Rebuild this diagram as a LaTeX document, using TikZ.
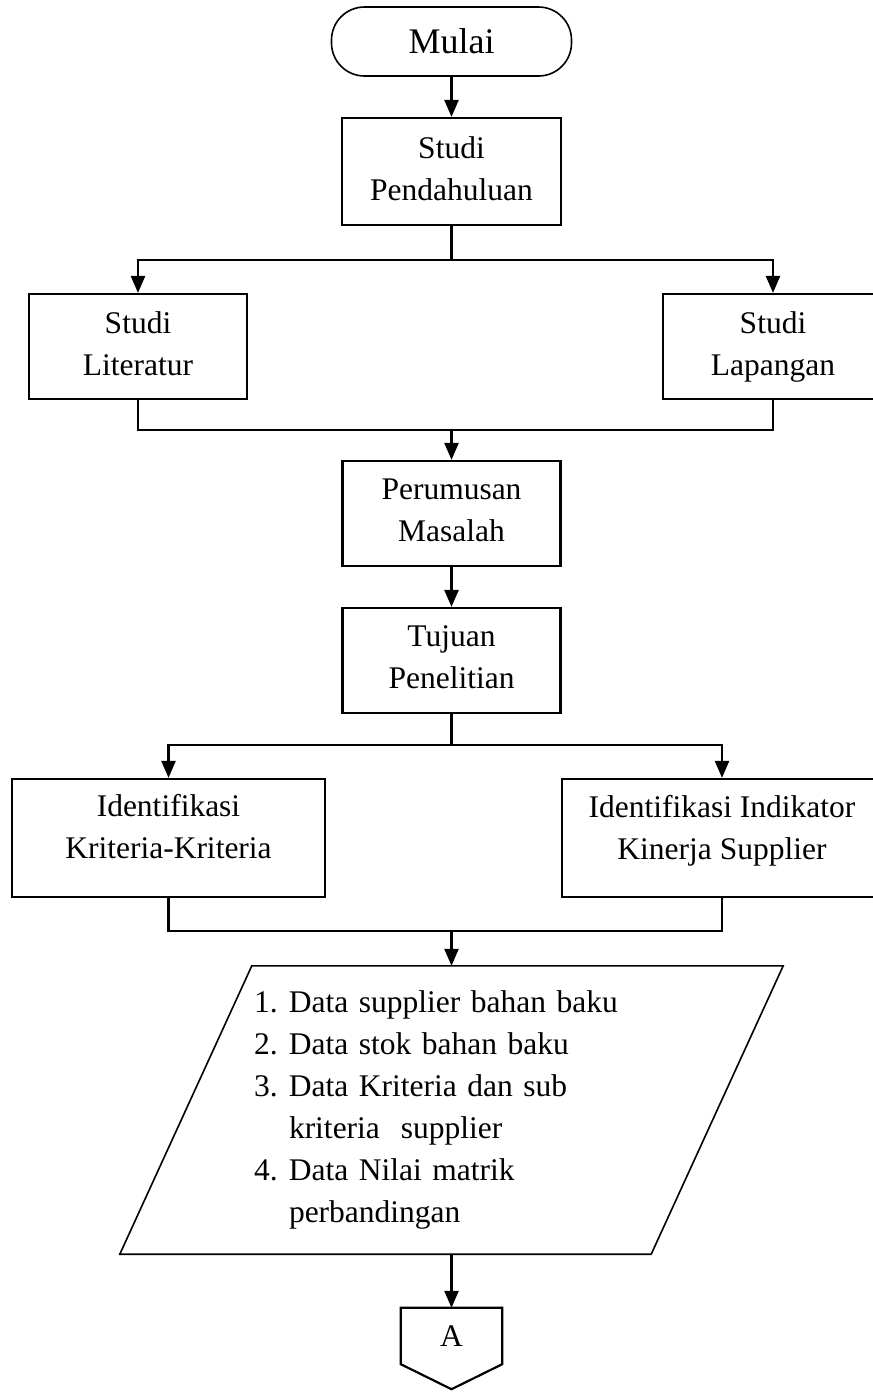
\documentclass[tikz,border=0pt]{standalone}
\usepackage{fontspec}
\setmainfont{Liberation Serif}
\usetikzlibrary{arrows.meta}
\begin{document}
\begin{tikzpicture}[x=1pt,y=-1pt,
  line join=miter,
  every node/.style={font=\fontsize{31.5}{42}\selectfont},
  stepbox/.style={draw, rectangle, line width=2.2pt, align=center, inner sep=0pt},
  evenlines/.style={execute at begin node=\rule{0pt}{29pt}, execute at end node=\vphantom{y}},
  txt/.style={align=center, inner sep=0pt, evenlines},
  plain/.style={line width=2.4pt},
  arr/.style={line width=2.4pt, -{Triangle[length=17pt,width=14pt]}},
  thinline/.style={line width=1.6pt}]

% page
\fill[white] (0,0) rectangle (873,1393);
\useasboundingbox (0,0) rectangle (873,1393);

% start terminator
\node[draw, thinline, rounded corners=33pt, minimum width=240pt, minimum height=69pt,
      inner sep=0pt, font=\fontsize{36}{42}\selectfont] (mulai) at (451.5,41.5) {Mulai};

% process boxes
\node[stepbox, evenlines, minimum width=219pt, minimum height=107pt] (pend) at (451.5,171.5) {Studi\\Pendahuluan};
\node[stepbox, evenlines, minimum width=218pt, minimum height=105pt] (lit) at (138,346.5) {Studi\\Literatur};
\node[stepbox, evenlines, minimum width=220pt, minimum height=105pt] (lap) at (773,346.5) {Studi\\Lapangan};
\node[stepbox, evenlines, minimum width=218pt, minimum height=105pt] (per) at (451.5,513.5) {Perumusan\\Masalah};
\node[stepbox, evenlines, minimum width=218pt, minimum height=105pt] (tuj) at (451.5,660.5) {Tujuan\\Penelitian};

\node[stepbox, minimum width=313pt, minimum height=118pt] (krit) at (168.5,838) {};
\node[txt] (kritT) at (168.5,830) {Identifikasi\\Kriteria-Kriteria};
\node[stepbox, minimum width=320pt, minimum height=118pt] (ind) at (722,838) {};
\node[txt] (indT) at (722,831) {Identifikasi Indikator\\Kinerja Supplier};

% input data (parallelogram)
\node[minimum width=531pt, minimum height=288pt, text width=395pt, inner xsep=68pt,
      inner ysep=0pt, align=left] (data) at (451.5,1110) {%
  \makebox[35pt][l]{1.}Data supplier bahan baku\\
  \makebox[35pt][l]{2.}Data stok bahan baku\\
  \makebox[35pt][l]{3.}Data Kriteria dan sub\\
  \hspace*{35pt}kriteria\ \ supplier\\
  \makebox[35pt][l]{4.}Data Nilai matrik\\
  \hspace*{35pt}perbandingan};
\draw[thinline] ([xshift=66pt]data.north west) -- ([xshift=66pt]data.north east)
  -- ([xshift=-66pt]data.south east) -- ([xshift=-66pt]data.south west) -- cycle;

% off-page connector
\node[minimum width=101pt, minimum height=56pt, inner sep=0pt] (conA) at (451.5,1336) {A};
\draw[line width=2.2pt] (conA.north west) -- (conA.north east) -- (conA.south east)
  -- ([yshift=-25pt]conA.south) -- (conA.south west) -- cycle;

% connectors
\draw[arr] (mulai) -- (pend);

\coordinate (split1) at (451.5,260);
\draw[plain] (pend.south) -- (split1);
\draw[arr] (split1) -| (lit.north);
\draw[arr] (split1) -| (lap.north);

\coordinate (merge1) at (451.5,430);
\draw[plain] (lit.south) |- (merge1);
\draw[plain] (lap.south) |- (merge1);
\draw[arr] (merge1) -- (per.north);

\draw[arr] (per) -- (tuj);

\coordinate (split2) at (451.5,745);
\draw[plain] (tuj.south) -- (split2);
\draw[arr] (split2) -| (krit.north);
\draw[arr] (split2) -| (ind.north);

\coordinate (merge2) at (451.5,931);
\draw[plain] (krit.south) |- (merge2);
\draw[plain] (ind.south) |- (merge2);
\draw[arr] (merge2) -- (data.north);

\draw[arr] (data.south) -- (conA.north);
\end{tikzpicture}
\end{document}
